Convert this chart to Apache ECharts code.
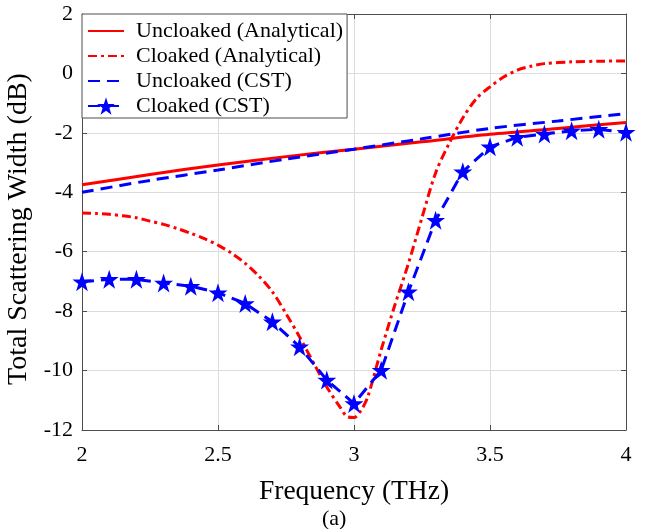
<!DOCTYPE html>
<html>
<head>
<meta charset="utf-8">
<script src="https://cdn.jsdelivr.net/npm/echarts@6/dist/echarts.min.js"></script>
<style>
html,body{margin:0;padding:0;background:#fff;}
#chart{width:649px;height:529px;}
</style>
</head>
<body>
<div id="chart"></div>
<script>
// ---- Data ----
const uncloakedAnaX = [2.0, 2.25, 2.5, 2.75, 3.0, 3.25, 3.5, 3.75, 4.0];
const uncloakedAnaY = [-3.75, -3.4, -3.08, -2.8, -2.55, -2.3, -2.05, -1.85, -1.65];

const cloakedAnaX = [2.0, 2.05, 2.1, 2.15, 2.2, 2.25, 2.3, 2.35, 2.4, 2.45, 2.5, 2.55, 2.6, 2.65, 2.7, 2.75, 2.8, 2.85, 2.9, 2.95, 2.975, 3.0, 3.025, 3.05, 3.1, 3.15, 3.2, 3.25, 3.3, 3.35, 3.4, 3.45, 3.5, 3.55, 3.6, 3.65, 3.7, 3.8, 3.9, 4.0];
const cloakedAnaY = [-4.70, -4.71, -4.74, -4.79, -4.86, -4.97, -5.08, -5.22, -5.38, -5.56, -5.78, -6.05, -6.39, -6.82, -7.35, -8.08, -8.87, -9.72, -10.55, -11.25, -11.55, -11.58, -11.35, -10.9, -9.3, -7.8, -6.4, -4.85, -3.35, -2.35, -1.5, -0.85, -0.45, -0.12, 0.11, 0.24, 0.33, 0.39, 0.41, 0.42];

const uncloakedCstX = [2.0, 2.25, 2.5, 2.75, 3.0, 3.25, 3.5, 3.75, 4.0];
const uncloakedCstY = [-4.0, -3.6, -3.25, -2.88, -2.55, -2.2, -1.85, -1.6, -1.35];

const cloakedCstX = [2.0, 2.1, 2.2, 2.3, 2.4, 2.5, 2.6, 2.7, 2.8, 2.9, 3.0, 3.1, 3.2, 3.3, 3.4, 3.5, 3.6, 3.7, 3.8, 3.9, 4.0];
const cloakedCstY = [-7.01, -6.93, -6.93, -7.05, -7.16, -7.38, -7.74, -8.36, -9.2, -10.32, -11.11, -9.99, -7.35, -4.94, -3.31, -2.47, -2.15, -2.04, -1.93, -1.88, -1.98];

const seriesNames = ['Uncloaked (Analytical)', 'Cloaked (Analytical)', 'Uncloaked (CST)', 'Cloaked (CST)'];
const xTicks = {min: 2, max: 4, interval: 0.5};
const yTicks = {min: -12, max: 2, interval: 2};

const zip = (xs, ys) => xs.map((x, i) => [x, ys[i]]);
const STAR = 'path://M50,0 L61.8,35.4 L99,35.4 L69,57.3 L80.4,92.7 L50,70.8 L19.6,92.7 L31,57.3 L1,35.4 L38.2,35.4 Z';
const FONT = 'Liberation Serif';

const chart = echarts.init(document.getElementById('chart'), null, {renderer: 'canvas'});
const axisLine = {show: true, onZero: false, lineStyle: {color: '#4d4d4d', width: 1}};
const splitLine = {show: true, lineStyle: {color: '#dcdcdc', width: 1}};
const tick = {show: true, inside: true, length: 5, lineStyle: {color: '#4d4d4d'}};

chart.setOption({
  animation: false,
  backgroundColor: '#fff',
  grid: {left: 82, top: 14, right: 23, bottom: 99, containLabel: false, outerBoundsMode: 'none'},
  legend: {
    data: [
      {name: seriesNames[0], itemStyle: {opacity: 0}},
      {name: seriesNames[1], itemStyle: {opacity: 0}},
      {name: seriesNames[2], itemStyle: {opacity: 0}},
      {name: seriesNames[3]}
    ],
    orient: 'vertical',
    left: 82, top: 14,
    padding: [6, 4, 1, 5],
    itemGap: 3,
    itemWidth: 36,
    itemHeight: 22,
    backgroundColor: '#fff',
    borderColor: '#4d4d4d',
    borderWidth: 1,
    borderRadius: 0,
    textStyle: {fontFamily: FONT, fontSize: 22, lineHeight: 22, color: '#000', padding: [0, 0, 0, 7]}
  },
  xAxis: [{
    type: 'value', min: xTicks.min, max: xTicks.max, interval: xTicks.interval,
    name: 'Frequency (THz)', nameLocation: 'middle', nameGap: 48,
    nameTextStyle: {fontFamily: FONT, fontSize: 27.5, color: '#000'},
    axisLine: axisLine, splitLine: splitLine, axisTick: tick,
    axisLabel: {fontFamily: FONT, fontSize: 22, color: '#000', margin: 14}
  }, {
    type: 'value', position: 'top', min: xTicks.min, max: xTicks.max, interval: xTicks.interval,
    axisLine: axisLine, splitLine: {show: false}, axisTick: tick,
    axisLabel: {show: false}
  }],
  yAxis: [{
    type: 'value', min: yTicks.min, max: yTicks.max, interval: yTicks.interval,
    name: 'Total Scattering Width (dB)', nameLocation: 'middle', nameGap: 45,
    nameTextStyle: {fontFamily: FONT, fontSize: 28, color: '#000', padding: [0, 14, 0, 0]},
    axisLine: axisLine, splitLine: splitLine, axisTick: tick,
    axisLabel: {fontFamily: FONT, fontSize: 22, color: '#000', margin: 9}
  }, {
    type: 'value', position: 'right', min: yTicks.min, max: yTicks.max, interval: yTicks.interval,
    axisLine: axisLine, splitLine: {show: false}, axisTick: tick,
    axisLabel: {show: false}
  }],
  series: [
    {
      name: seriesNames[0], type: 'line', smooth: 0.3, showSymbol: false, symbol: 'none',
      data: zip(uncloakedAnaX, uncloakedAnaY),
      lineStyle: {color: '#ff0000', width: 3, type: 'solid'},
      itemStyle: {color: '#ff0000'}, z: 3
    },
    {
      name: seriesNames[1], type: 'line', smooth: 0.3, showSymbol: false, symbol: 'none',
      data: zip(cloakedAnaX, cloakedAnaY),
      lineStyle: {color: '#ff0000', width: 3, type: [9, 4, 3, 4]},
      itemStyle: {color: '#ff0000'}, z: 3
    },
    {
      name: seriesNames[2], type: 'line', smooth: 0.3, showSymbol: false, symbol: 'none',
      data: zip(uncloakedCstX, uncloakedCstY),
      lineStyle: {color: '#0000ff', width: 3, type: [12, 7]},
      itemStyle: {color: '#0000ff'}, z: 4
    },
    {
      name: seriesNames[3], type: 'line', smooth: false, symbol: STAR, symbolSize: 19, showSymbol: true,
      data: zip(cloakedCstX, cloakedCstY),
      lineStyle: {color: '#0000ff', width: 3, type: [12, 7]},
      itemStyle: {color: '#0000ff', borderWidth: 0}, z: 5
    }
  ],
  graphic: [{
    type: 'text', left: 322, top: 508,
    style: {text: '(a)', font: '22px "Liberation Serif"', fill: '#000', textAlign: 'center'}
  }]
});
</script>
</body>
</html>
